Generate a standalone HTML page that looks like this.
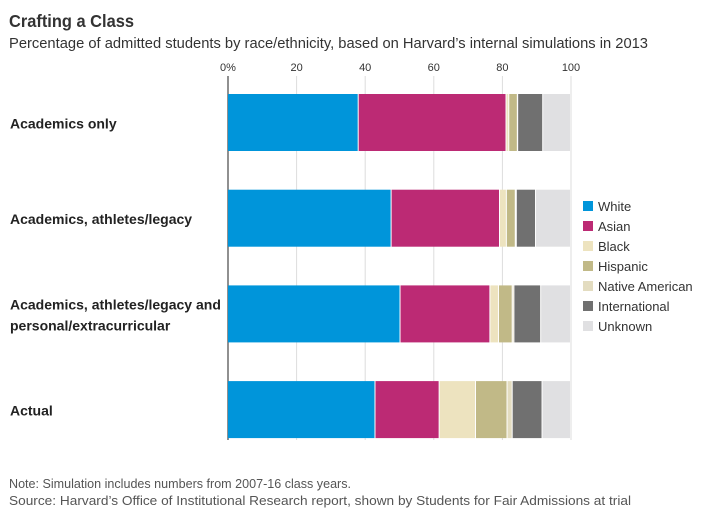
<!DOCTYPE html>
<html><head><meta charset="utf-8"><style>
body{margin:0;background:#fff;font-family:"Liberation Sans",sans-serif;color:#222}
svg text{font-family:"Liberation Sans",sans-serif}
</style></head><body>
<svg id="c" width="718" height="522">
<text x="9" y="27" font-size="17.5" font-weight="bold" fill="#333" textLength="125" lengthAdjust="spacingAndGlyphs">Crafting a Class</text>
<text x="9" y="48" font-size="14.5" fill="#333" textLength="639" lengthAdjust="spacingAndGlyphs">Percentage of admitted students by race/ethnicity, based on Harvard’s internal simulations in 2013</text>
<text x="9" y="488" font-size="12.5" fill="#555" textLength="342" lengthAdjust="spacingAndGlyphs">Note: Simulation includes numbers from 2007-16 class years.</text>
<text x="9" y="505" font-size="12.5" fill="#555" textLength="622" lengthAdjust="spacingAndGlyphs">Source: Harvard’s Office of Institutional Research report, shown by Students for Fair Admissions at trial</text>
<g id="grid"></g><g id="bars"></g><g id="labels"></g><g id="legend"></g>
</svg>
<script>
const categories=["Academics only","Academics, athletes/legacy","Academics, athletes/legacy and|personal/extracurricular","Actual"];
const seriesNames=["White","Asian","Black","Hispanic","Native American","International","Unknown"];
const white=[38.1,47.7,50.3,43.0];
const asian=[43.1,31.6,26.2,18.7];
const black=[0.8,2.0,2.5,10.6];
const hispanic=[2.5,2.6,4.0,9.2];
const nativeAm=[0.1,0.3,0.5,1.5];
const international=[7.3,5.6,7.8,8.7];
const unknown=[8.1,10.2,8.7,8.3];
const ticks=[0,20,40,60,80,100];
const colors=["#0095da","#bc2a74","#ede3bf","#c1b987","#e3dcc0","#707070","#e0e0e2"];
const series=[white,asian,black,hispanic,nativeAm,international,unknown];
const ns="http://www.w3.org/2000/svg";
const x=v=>228+v*3.43;
const rowTop=i=>94+i*95.7;
const bh=57;
function mk(t,a,p){const e=document.createElementNS(ns,t);for(const k in a)e.setAttribute(k,a[k]);p.appendChild(e);return e;}
const grid=document.getElementById('grid');
ticks.forEach(t=>{
  if(t>0){const l=mk('line',{x1:x(t),x2:x(t),y1:76,y2:440,stroke:'#ddd','stroke-width':1},grid);
  
  }
  const tx=mk('text',{x:x(t),y:71,'font-size':11,'text-anchor':'middle',fill:'#333'},grid);
  tx.textContent=t===0?'0%':t;
  
  
});
const bars=document.getElementById('bars');
categories.forEach((c,i)=>{
  let acc=0;
  series.forEach((s,j)=>{
    const v=s[i];
    const r=mk('rect',{x:x(acc),y:rowTop(i),width:Math.max(0,x(acc+v)-x(acc)-1),height:bh,fill:colors[j]},bars);
    
    
    acc+=v;
  });
  const lines=c.split('|');
  const t=mk('text',{x:10,'font-size':14,'font-weight':'bold',fill:'#222'},document.getElementById('labels'));
  
  
  const cy=rowTop(i)+bh/2;
  lines.forEach((ln,k)=>{const s=mk('tspan',{x:10,y:cy+6+(k-(lines.length-1)/2)*21},t);s.textContent=ln;});
});
mk('line',{x1:228,x2:228,y1:76,y2:440,stroke:'#222','stroke-width':1},grid);
const lg=document.getElementById('legend');
seriesNames.forEach((n,j)=>{
  const g=mk('g',{},lg);
  
  
  mk('rect',{x:583,y:201+j*20,width:10,height:10,fill:colors[j]},g);
  const t=mk('text',{x:598,y:211+j*20,'font-size':13,fill:'#333'},g);t.textContent=n;
});
</script>
</body></html>
